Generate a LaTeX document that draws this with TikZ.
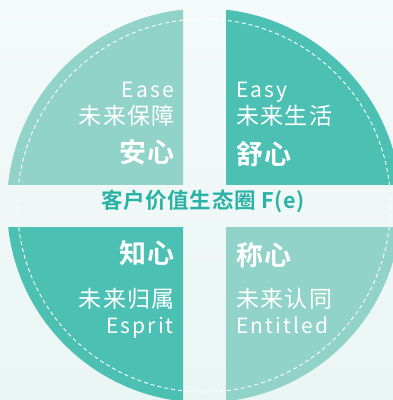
\documentclass[tikz,border=0pt]{standalone}
\usepackage{fontspec}
\setmainfont{Noto Sans CJK SC}
\newfontfamily\cjk[LetterSpace=6]{Noto Sans CJK SC}
\newfontfamily\lat[LetterSpace=10]{Noto Sans CJK SC}
\newfontfamily\cjkb[LetterSpace=4]{Noto Sans CJK SC Bold}
\newfontfamily\titlef[LetterSpace=3]{Noto Sans CJK SC Bold}
\definecolor{bgtop}{HTML}{F4FAFA}
\definecolor{bgbot}{HTML}{EAF6F4}
\definecolor{lightteal}{HTML}{91D2C9}
\definecolor{darkteal}{HTML}{4DC0B4}
\definecolor{titleteal}{HTML}{2AB3A4}
\tikzset{
  latn/.style={text=white,inner sep=0pt,font=\lat\fontsize{21}{21}\selectfont},
  cjkn/.style={text=white,inner sep=0pt,font=\cjk\fontsize{23}{23}\selectfont},
  boldn/.style={text=white,inner sep=0pt,font=\cjkb\fontsize{27}{27}\selectfont},
}
\begin{document}
\begin{tikzpicture}[x=1pt,y=-1pt]
\useasboundingbox (0,0) rectangle (393,400);
\shade[top color=bgtop,bottom color=bgbot] (0,0) rectangle (393,400);
\coordinate (C) at (204,205.5);
\begin{scope}
\clip (0,0) rectangle (183,184);
\fill[lightteal] (C) circle[radius=197];
\end{scope}
\begin{scope}
\clip (226,0) rectangle (393,184);
\fill[darkteal] (C) circle[radius=197];
\end{scope}
\begin{scope}
\clip (0,227) rectangle (183,400);
\fill[darkteal] (C) circle[radius=197];
\end{scope}
\begin{scope}
\clip (226,227) rectangle (393,400);
\fill[lightteal] (C) circle[radius=197];
\end{scope}
\draw[white,line width=0.9pt,dash pattern=on 4pt off 3pt] (C) circle[radius=186.5];
% top-left
\node[latn,anchor=base east] (ease) at (174,97) {Ease};
\node[cjkn,anchor=east] (tl2) at (175,116) {未来保障};
\node[boldn,anchor=east] (tl3) at (175,152.5) {安心};
% top-right
\node[latn,anchor=base west] (easy) at (236,97) {Easy};
\node[cjkn,anchor=west] (tr2) at (236,116) {未来生活};
\node[boldn,anchor=west] (tr3) at (236,154.5) {舒心};
% title
\node[inner sep=0pt,text=titleteal,font=\titlef\fontsize{21.5}{21.5}\selectfont] (title) at (203,201.5) {客户价值生态圈 F(e)};
% bottom-left
\node[boldn,anchor=east] (bl1) at (175,253.5) {知心};
\node[cjkn,anchor=east] (bl2) at (175,298.5) {未来归属};
\node[latn,anchor=base east] (esprit) at (174,333) {Esprit};
% bottom-right
\node[boldn,anchor=west] (br1) at (236,255) {称心};
\node[cjkn,anchor=west] (br2) at (236,298.5) {未来认同};
\node[latn,anchor=base west] (entitled) at (236,333) {Entitled};
\end{tikzpicture}
\end{document}
